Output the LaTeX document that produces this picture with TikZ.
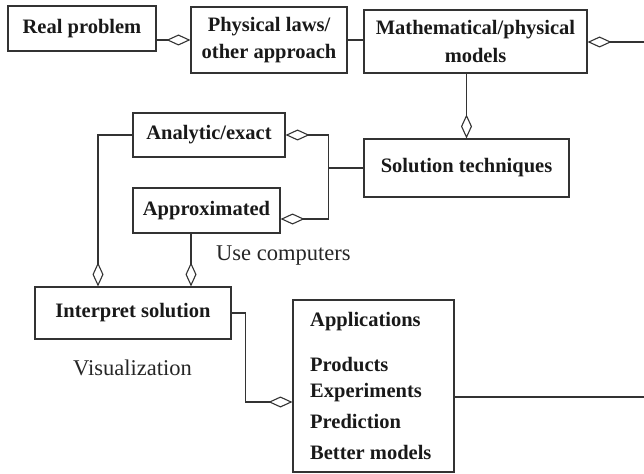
\documentclass[tikz,border=0pt]{standalone}
\usepackage{fontspec}
\setmainfont{Liberation Serif}
\usetikzlibrary{arrows.meta}
\begin{document}
\begin{tikzpicture}[x=1pt,y=-1pt,
  box/.style={draw=black!80, line width=1.1pt, inner sep=0pt, font=\fontsize{20.5}{27.5}\selectfont\bfseries, text=black!90, align=center},
  conn/.style={draw=black!80, line width=1.1pt},
  agg/.style={conn, -{Diamond[open, length=24pt, width=11pt]}},
  lbl/.style={font=\fontsize{22.5}{26}\selectfont, text=black!85, inner sep=0pt, anchor=base west},
  item/.style={font=\fontsize{20.5}{24}\selectfont\bfseries, text=black!90, inner sep=0pt, anchor=base west}]
\useasboundingbox[fill=white] (0,0) rectangle (644,473);

\node[box, minimum width=148pt, minimum height=45pt] (real) at (82,28.5) {Real problem};
\node[box, minimum width=156pt, minimum height=66pt] (phys) at (269,40) {Physical laws/\\other approach};
\node[box, minimum width=223pt, minimum height=63pt] (math) at (475.5,41.5) {Mathematical/physical\\models};
\node[box, minimum width=205pt, minimum height=58pt] (sol) at (466.5,168) {Solution techniques};
\node[box, minimum width=152pt, minimum height=44pt] (ana) at (209,135) {Analytic/exact};
\node[box, minimum width=147pt, minimum height=45pt] (app) at (206.5,210.5) {Approximated};
\node[box, minimum width=196pt, minimum height=52pt] (interp) at (133,313) {Interpret solution};
\node[box, minimum width=161pt, minimum height=172pt] (apps) at (373.5,386) {};

\node[item] (t1) at (310,326) {Applications};
\node[item] (t2) at (310,371) {Products};
\node[item] (t3) at (310,397) {Experiments};
\node[item] (t4) at (310,428) {Prediction};
\node[item] (t5) at (310,459) {Better models};

\node[lbl] (usec) at (216,260) {Use computers};
\node[lbl] (vis) at (73,375) {Visualization};

% top row
\draw[agg] (real.east |- phys.west) -- (phys.west);
\draw[conn] (phys.east) -- (phys.east -| math.west);
\coordinate (e1) at (644,42);
\draw[agg] (e1) -- (e1 -| math.east);
\draw[agg] (math.south -| sol.north) -- (sol.north);

% solution techniques branches
\path (sol.west) ++(-35,0) coordinate (j);
\draw[conn] (sol.west) -- (j);
\draw[agg] (j) |- (ana.east);
\coordinate (appe) at ([yshift=-8.5pt]app.east);
\draw[agg] (j) |- (appe);

% to interpret
\coordinate (ib) at ([xshift=-35pt]interp.north);
\draw[agg] (ana.west) -| (ib);
\coordinate (appb) at ([xshift=-15.5pt]app.south);
\draw[agg] (appb) -- (appb |- interp.north);

% to applications
\coordinate (appsw) at ([yshift=-16pt]apps.west);
\draw[agg] (interp.east) -- ++(14,0) |- (appsw);
\coordinate (appse) at ([yshift=-11pt]apps.east);
\coordinate (e2) at (644,397);
\draw[conn] (appse) -- (e2);
\end{tikzpicture}
\end{document}
